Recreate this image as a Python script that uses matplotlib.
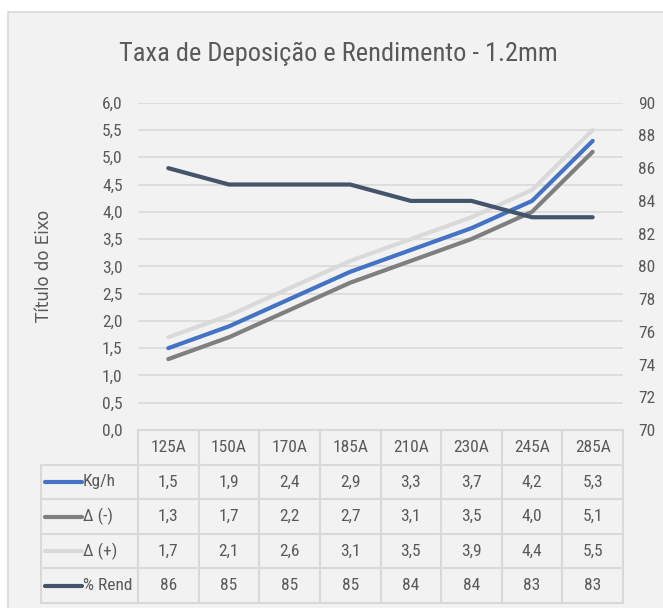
import numpy as np
import matplotlib.pyplot as plt
from matplotlib import font_manager as fm
from matplotlib.patches import Rectangle

categorias = ['125A', '150A', '170A', '185A', '210A', '230A', '245A', '285A']
kgh = [1.5, 1.9, 2.4, 2.9, 3.3, 3.7, 4.2, 5.3]
delta_menos = [1.3, 1.7, 2.2, 2.7, 3.1, 3.5, 4.0, 5.1]
delta_mais = [1.7, 2.1, 2.6, 3.1, 3.5, 3.9, 4.4, 5.5]
rend = [86, 85, 85, 85, 84, 84, 83, 83]

nomes = ['Kg/h', 'Δ (-)', 'Δ (+)', '% Rend']
cores = ['#4472C4', '#7F7F7F', '#D9D9D9', '#44546A']

# fonte estreita, se houver
nomes_fontes = {f.name for f in fm.fontManager.ttflist}
estreita = None
for cand in ['Liberation Sans Narrow', 'Roboto Condensed', 'Open Sans Condensed',
             'DejaVu Sans Condensed', 'Noto Sans Condensed']:
    if cand in nomes_fontes:
        estreita = cand
        break
stretch = 'normal'
if estreita is None:
    for f in fm.fontManager.ttflist:
        if f.name == 'DejaVu Sans' and str(f.stretch) in ('condensed', 'semi-condensed'):
            estreita = 'DejaVu Sans'
            stretch = 'condensed'
            break
if estreita is None:
    estreita = 'Liberation Sans'

plt.rcParams['font.family'] = [estreita, 'DejaVu Sans']
plt.rcParams['font.stretch'] = stretch
txt = '#595959'
grade = '#D9D9D9'

W, H = 663, 608
fig = plt.figure(figsize=(W / 100, H / 100), dpi=100)
fig.patch.set_facecolor('white')
fig.patches.append(Rectangle((8 / W, -0.05), (W + 20) / W, (H - 12) / H + 0.05, transform=fig.transFigure,
                             facecolor='#F2F2F2', edgecolor='#D9D9D9', lw=1.2, zorder=-10))

ax = fig.add_axes([138 / W, (H - 430) / H, 485 / W, (430 - 102.7) / H])
ax.set_facecolor('none')
x = np.arange(len(categorias))
ax.plot(x, kgh, color=cores[0], lw=3, solid_capstyle='round', zorder=3)
ax.plot(x, delta_menos, color=cores[1], lw=3, solid_capstyle='round', zorder=3)
ax.plot(x, delta_mais, color=cores[2], lw=3, solid_capstyle='round', zorder=2)
ax.set_xlim(-0.5, 7.5)
ax.set_ylim(0, 6)
ax.set_yticks(np.arange(0, 6.01, 0.5))
ax.set_yticklabels([f'{v:.1f}'.replace('.', ',') for v in np.arange(0, 6.01, 0.5)])
ax.set_xticks([])
ax.grid(axis='y', color=grade, lw=1.2)
ax.set_axisbelow(True)
for s in ax.spines.values():
    s.set_visible(False)
ax.tick_params(axis='y', length=0, pad=11, labelsize=12.5, labelcolor=txt)

ax2 = ax.twinx()
ax2.plot(x, rend, color=cores[3], lw=3, solid_capstyle='round', zorder=4)
ax2.set_ylim(70, 90)
ax2.set_yticks(np.arange(70, 91, 2))
for s in ax2.spines.values():
    s.set_visible(False)
ax2.tick_params(axis='y', length=0, pad=11, labelsize=12.5, labelcolor=txt)

fig.text(338 / W, (H - 54) / H, 'Taxa de Deposição e Rendimento - 1.2mm', ha='center', va='center',
         fontsize=19, color=txt)
fig.text(44 / W, (H - 266) / H, 'Título do Eixo', rotation=90, ha='center', va='center',
         fontsize=12, color=txt, family='DejaVu Sans', stretch='normal')

# tabela de dados
lw_lab = (138 - 41) / (485 / 8)
tab = fig.add_axes([41 / W, (H - 603) / H, 582 / W, (603 - 430) / H])
tab.set_facecolor('none')
tab.set_xlim(-0.5 - lw_lab, 7.5)
tab.set_ylim(5, 0)
tab.axis('off')
tab.plot([-0.5, 7.5], [0, 0], color=grade, lw=1.5, clip_on=False)
for r in range(1, 6):
    tab.plot([-0.5 - lw_lab, 7.5], [r, r], color=grade, lw=1.5, clip_on=False)
for c in range(9):
    tab.plot([c - 0.5, c - 0.5], [0, 5], color=grade, lw=1.5, clip_on=False)
tab.plot([-0.5 - lw_lab, -0.5 - lw_lab], [1, 5], color=grade, lw=1.5, clip_on=False)

for i, cat in enumerate(categorias):
    tab.text(i, 0.5, cat, ha='center', va='center', fontsize=12.5, color=txt)
linhas = [kgh, delta_menos, delta_mais, rend]
for r, (nome, cor, vals) in enumerate(zip(nomes, cores, linhas)):
    yy = r + 1.5
    tab.plot([-0.5 - lw_lab + 0.07, -0.5 - lw_lab + 0.67], [yy, yy], color=cor, lw=3,
             solid_capstyle='round', clip_on=False)
    tab.text(-0.5 - lw_lab + 0.69, yy, nome, ha='left', va='center', fontsize=12.5, color=txt)
    for i, v in enumerate(vals):
        s = str(v) if nome == '% Rend' else f'{v:.1f}'.replace('.', ',')
        tab.text(i, yy, s, ha='center', va='center', fontsize=12.5, color=txt)

fig.savefig('out.png', dpi=100)
